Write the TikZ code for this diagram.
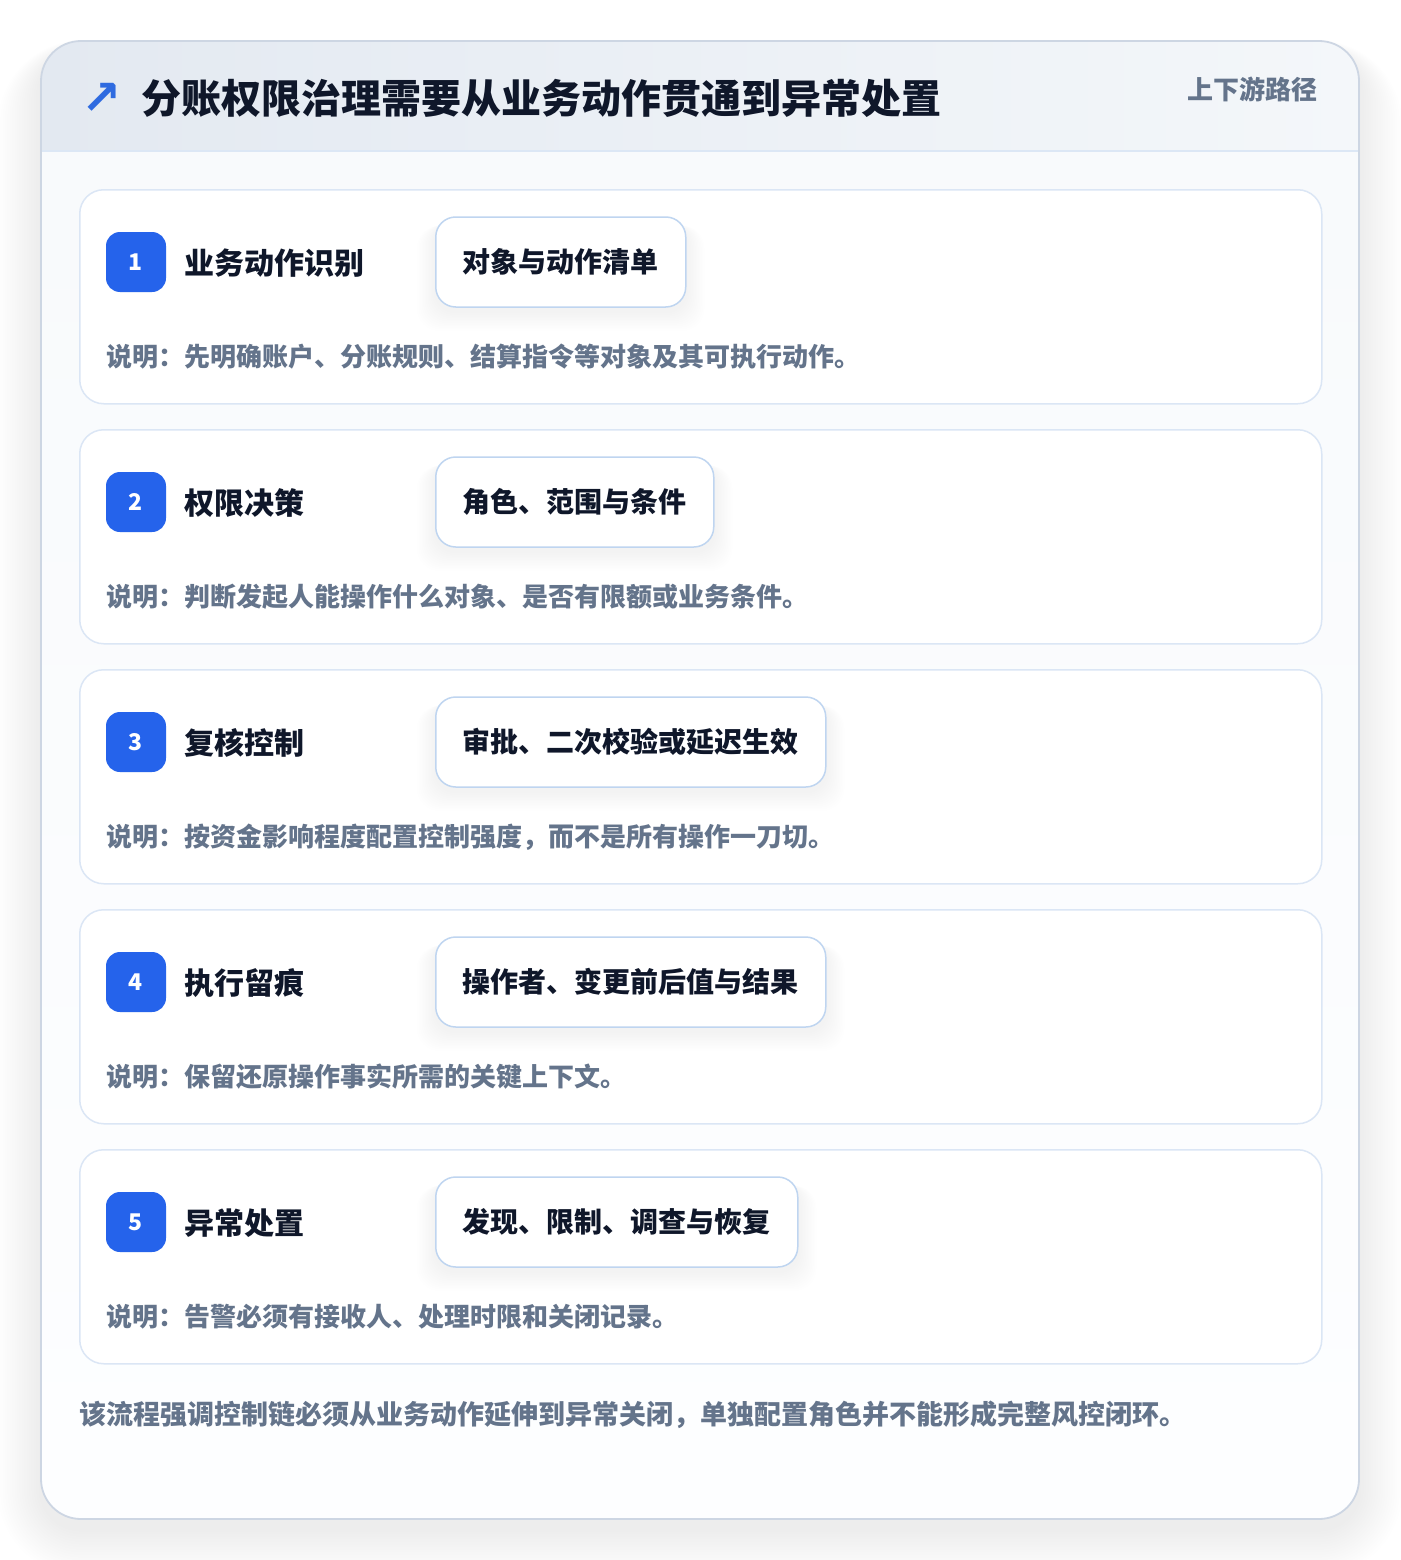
\documentclass[tikz,border=0pt]{standalone}
\usepackage{fontspec}
\setmainfont{Noto Sans CJK SC}
\newfontfamily\symfont{DejaVu Sans}
\usetikzlibrary{calc}
\definecolor{outerborder}{HTML}{CDD6E3}
\definecolor{hdrL}{HTML}{E3E9F1}
\definecolor{hdrR}{HTML}{F4F7FA}
\definecolor{hdrline}{HTML}{DCE7F5}
\definecolor{bodytop}{HTML}{F8FAFC}
\definecolor{bodybot}{HTML}{FDFEFF}
\definecolor{cardborder}{HTML}{DBE6F5}
\definecolor{chipborder}{HTML}{BFD5F0}
\definecolor{badgeblue}{HTML}{2563EB}
\definecolor{iconblue}{HTML}{2F6BE0}
\definecolor{darktext}{HTML}{0F172A}
\definecolor{graytext}{HTML}{64748B}
\pgfdeclarelayer{bglayer}
\pgfdeclarelayer{cardlayer}
\pgfdeclarelayer{shadowlayer}
\pgfsetlayers{bglayer,cardlayer,shadowlayer,main}
\tikzset{
  cardbox/.style={draw=cardborder, line width=1.5pt, fill=white, rounded corners=24pt,
    minimum width=1242pt, minimum height=214pt, inner sep=0pt, anchor=north west},
  badgebox/.style={fill=badgeblue, rounded corners=14pt, minimum size=60pt, inner sep=0pt,
    text=white, font=\fontsize{23pt}{27pt}\selectfont\bfseries},
  steptitle/.style={anchor=west, inner sep=0pt, text=darktext,
    font=\fontsize{30pt}{36pt}\selectfont\bfseries},
  chipbox/.style={anchor=west, draw=chipborder, line width=1.5pt, fill=white, rounded corners=20pt,
    inner xsep=27pt, inner ysep=0pt, minimum height=90pt, text=darktext,
    font=\fontsize{28pt}{34pt}\selectfont\bfseries},
  desctext/.style={anchor=west, inner sep=0pt, text=graytext,
    font=\fontsize{26pt}{31pt}\selectfont\bfseries},
}
\begin{document}
\begin{tikzpicture}[x=1pt,y=-1pt]
\useasboundingbox (0,0) rectangle (1400,1560);
\begin{pgfonlayer}{bglayer}
\fill[white] (0,0) rectangle (1400,1560);
% outer shadow
\foreach \i in {1,...,18} {
  \pgfmathsetmacro\rr{40+\i*2.5}
  \fill[black, opacity=0.0035, rounded corners=\rr pt]
    (41-\i*2.4, 41-\i*0.6+10) rectangle (1359+\i*2.4, 1519+\i*2.6+10);
}
% outer card body
\begin{scope}
  \clip[rounded corners=40pt] (41,41) rectangle (1359,1519);
  \shade[top color=bodytop, bottom color=bodybot] (41,151) rectangle (1359,1519);
  \shade[left color=hdrL, right color=hdrR] (41,41) rectangle (1359,151);
  \draw[hdrline, line width=1.5pt] (41,151) -- (1359,151);
\end{scope}
\draw[outerborder, line width=1.8pt, rounded corners=40pt] (41,41) rectangle (1359,1519);
\end{pgfonlayer}

% header
\node[inner sep=0pt, text=iconblue, font=\fontsize{48pt}{56pt}\selectfont\symfont\bfseries] (icon) at (102,99) {↗};
\node[anchor=west, inner sep=0pt, text=darktext, font=\fontsize{40pt}{48pt}\selectfont\bfseries] (title) at (141,98) {分账权限治理需要从业务动作贯通到异常处置};
\node[anchor=east, inner sep=0pt, text=graytext, font=\fontsize{26pt}{31pt}\selectfont\bfseries] (sub) at (1318,89) {上下游路径};

% steps
\foreach \n/\ttl/\chp/\dsc in {
  1/业务动作识别/对象与动作清单/说明：先明确账户、分账规则、结算指令等对象及其可执行动作。,
  2/权限决策/角色、范围与条件/说明：判断发起人能操作什么对象、是否有限额或业务条件。,
  3/复核控制/审批、二次校验或延迟生效/说明：按资金影响程度配置控制强度，而不是所有操作一刀切。,
  4/执行留痕/操作者、变更前后值与结果/说明：保留还原操作事实所需的关键上下文。,
  5/异常处置/发现、限制、调查与恢复/说明：告警必须有接收人、处理时限和关闭记录。} {
  \pgfmathsetmacro\tp{189+240*(\n-1)}
  \begin{pgfonlayer}{cardlayer}
    \node[cardbox] (card\n) at (79,\tp) {};
  \end{pgfonlayer}
  \node[badgebox] (badge\n) at (136,\tp+73) {\n};
  \node[steptitle] (step\n) at (184,\tp+74) {\ttl};
  \node[chipbox] (chip\n) at (435,\tp+73) {\chp};
  \node[desctext] (desc\n) at (106,\tp+168) {\dsc};
  \begin{pgfonlayer}{shadowlayer}
    \foreach \j in {1,...,12} {
      \fill[black, opacity=0.0045, rounded corners=22pt]
        ($(chip\n.north west)+(-\j*1.5, 6+\j*0.3)$) rectangle ($(chip\n.south east)+(\j*1.5, 4+\j*1.6)$);
    }
  \end{pgfonlayer}
}

% footer
\node[anchor=west, inner sep=0pt, text=graytext, font=\fontsize{27pt}{32pt}\selectfont\bfseries] (foot) at (79,1415) {该流程强调控制链必须从业务动作延伸到异常关闭，单独配置角色并不能形成完整风控闭环。};
\end{tikzpicture}
\end{document}
